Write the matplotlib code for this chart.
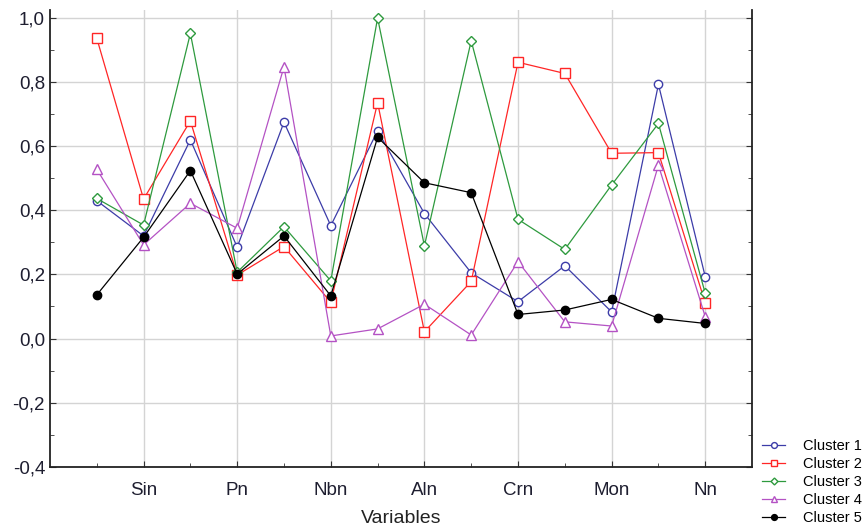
import matplotlib
matplotlib.use('Agg')
import matplotlib.pyplot as plt
from matplotlib.ticker import MultipleLocator, FuncFormatter
import numpy as np

plt.rcParams['font.family'] = ['Liberation Sans', 'DejaVu Sans']

# 14 variables, only every second one is labelled on the axis
n_vars = 14
tick_labels = ['Sin', 'Pn', 'Nbn', 'Aln', 'Crn', 'Mon', 'Nn']

cluster1 = [0.43, 0.32, 0.62, 0.285, 0.675, 0.352, 0.648, 0.39, 0.205, 0.115, 0.227, 0.083, 0.793, 0.193]
cluster2 = [0.937, 0.435, 0.679, 0.198, 0.287, 0.113, 0.736, 0.021, 0.178, 0.862, 0.827, 0.578, 0.58, 0.111]
cluster3 = [0.437, 0.354, 0.952, 0.207, 0.349, 0.18, 1.0, 0.289, 0.929, 0.372, 0.278, 0.479, 0.671, 0.141]
cluster4 = [0.528, 0.292, 0.422, 0.344, 0.848, 0.008, 0.03, 0.107, 0.011, 0.24, 0.052, 0.039, 0.541, 0.068]
cluster5 = [0.136, 0.316, 0.524, 0.201, 0.32, 0.133, 0.628, 0.486, 0.455, 0.075, 0.089, 0.122, 0.063, 0.047]

series = [
    ('Cluster 1', cluster1, '#3c3ca8', 'o', 'none', 6),
    ('Cluster 2', cluster2, '#ff2626', 's', 'none', 7),
    ('Cluster 3', cluster3, '#2e9a3e', 'D', 'none', 5),
    ('Cluster 4', cluster4, '#b452c4', '^', 'none', 6.5),
    ('Cluster 5', cluster5, '#000000', 'o', '#000000', 6),
]

fig = plt.figure(figsize=(8.66, 5.27), dpi=100)
ax = fig.add_axes([0.0577, 0.1144, 0.8107, 0.8666])

x = np.arange(1, n_vars + 1)
for name, vals, col, mk, face, ms in series:
    ax.plot(x, vals, color=col, linewidth=0.9, marker=mk, markersize=ms,
            markerfacecolor=face if face != 'none' else 'white',
            markeredgecolor=col, markeredgewidth=1.0, label=name)

ax.set_xlim(0, n_vars + 1)
ax.set_ylim(-0.4, 1.025)
ax.set_xticks(np.arange(2, n_vars + 1, 2))
ax.set_xticklabels(tick_labels)
ax.set_xticks(np.arange(1, n_vars + 1, 2), minor=True)
ax.yaxis.set_major_locator(MultipleLocator(0.2))
ax.yaxis.set_minor_locator(MultipleLocator(0.1))
ax.yaxis.set_major_formatter(FuncFormatter(lambda v, p: f'{v:.1f}'.replace('.', ',')))

ax.grid(True, which='major', color='#d4d4d4', linewidth=1.0)
ax.set_axisbelow(True)
ax.tick_params(which='both', direction='in', right=True, top=False,
               labelsize=13.5, labelcolor='#1e1e30', color='#333333')
ax.tick_params(which='major', length=4)
ax.tick_params(which='minor', length=3)
ax.tick_params(axis='x', pad=11)
ax.spines['top'].set_visible(False)
for s in ['left', 'bottom', 'right']:
    ax.spines[s].set_linewidth(1.3)
    ax.spines[s].set_color('#222222')

ax.set_xlabel('Variables', fontsize=14, color='#222222', labelpad=8)

leg = fig.legend(loc='lower left', bbox_to_anchor=(0.873, -0.008), frameon=False,
                 fontsize=10.5, handlelength=1.6, handletextpad=1.25,
                 labelspacing=0.28, markerscale=0.7, borderaxespad=0)

fig.savefig('out.png', dpi=100)
